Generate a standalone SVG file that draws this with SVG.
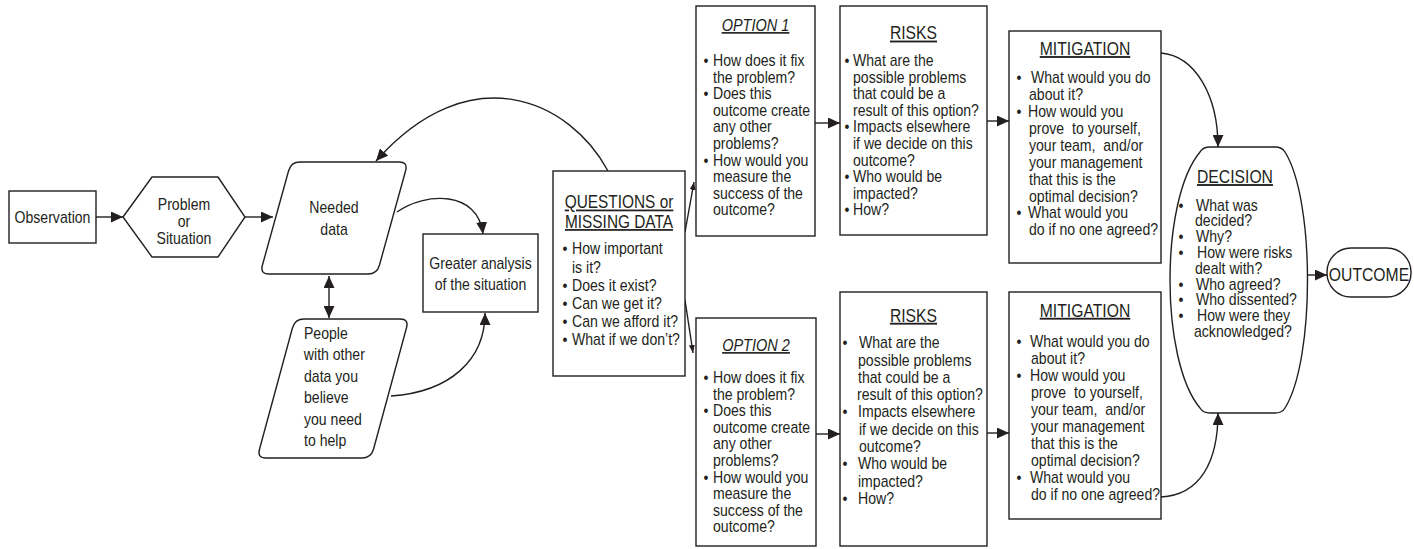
<svg xmlns="http://www.w3.org/2000/svg" width="1414" height="549" viewBox="0 0 1414 549">
  <style>
    .shape { fill: #fff; stroke: #231f20; stroke-width: 1.4; }
    .link { fill: none; stroke: #231f20; stroke-width: 1.4; }
    /* condensed look: regular sans squeezed horizontally around each text's anchor */
    .t { font-family: "Liberation Sans", Arial, sans-serif; font-size: 16px; fill: #231f20;
         transform-box: fill-box; transform-origin: 0 0; transform: scaleX(0.88); }
    .c { text-anchor: middle; transform-origin: 50% 0; }
    .h { font-size: 18.5px; text-decoration: underline; text-anchor: middle; transform-origin: 50% 0; transform: scaleX(0.85); }
    .hq { font-size: 17.5px; transform: scaleX(0.88); }
    .hi { font-size: 16.5px; font-style: italic; text-decoration: underline; text-anchor: middle; transform-origin: 50% 0; }
    .big { font-size: 18.5px; transform: scaleX(0.85); }
    .pre { white-space: pre; }
  </style>
  <defs>
    <marker id="arr" markerUnits="userSpaceOnUse" markerWidth="12" markerHeight="11" refX="12" refY="5.5" orient="auto">
      <path d="M0,0 L12,5.5 L0,11 Z" fill="#231f20"/>
    </marker>
    <marker id="arrStart" markerUnits="userSpaceOnUse" markerWidth="12" markerHeight="11" refX="12" refY="5.5" orient="auto-start-reverse">
      <path d="M0,0 L12,5.5 L0,11 Z" fill="#231f20"/>
    </marker>
    <marker id="arrSmall" markerUnits="userSpaceOnUse" markerWidth="8" markerHeight="6" refX="8" refY="3" orient="auto">
      <path d="M0,0 L8,3 L0,6 Z" fill="#231f20"/>
    </marker>
  </defs>

  <!-- connectors -->
  <g id="connectors">
    <path class="link" d="M96,217 L123,217" marker-end="url(#arr)"/>
    <path class="link" d="M245,217 L273,217" marker-end="url(#arr)"/>
    <path class="link" d="M329,276 L329,318" marker-start="url(#arrStart)" marker-end="url(#arr)"/>
    <path class="link" d="M397,212 C425,192 478,190 483,234" marker-end="url(#arr)"/>
    <path class="link" d="M391,396 C450,392 485,360 485,313" marker-end="url(#arr)"/>
    <path class="link" d="M608,171 C570,100 470,55 376,161" marker-end="url(#arr)"/>
    <path class="link" d="M685,232 L694,182" marker-end="url(#arrSmall)"/>
    <path class="link" d="M685,300 L693,353" marker-end="url(#arrSmall)"/>
    <path class="link" d="M815,123 L840,123" marker-end="url(#arr)"/>
    <path class="link" d="M816,434 L840,434" marker-end="url(#arr)"/>
    <path class="link" d="M987,121 L1009,121" marker-end="url(#arr)"/>
    <path class="link" d="M987,433 L1009,433" marker-end="url(#arr)"/>
    <path class="link" d="M1161,53 C1195,56 1218,95 1218,147" marker-end="url(#arr)"/>
    <path class="link" d="M1161,497 C1200,495 1218,462 1218,413" marker-end="url(#arr)"/>
    <path class="link" d="M1303,275 L1327,275" marker-end="url(#arr)"/>
  </g>

  <g id="observation">
    <rect class="shape" x="9" y="191" width="87" height="52"/>
    <text class="t c" x="52.5" y="223">Observation</text>
  </g>

  <g id="problem">
    <path class="shape" d="M123,217 L152,177 L218,177 L245,217 L218,257 L152,257 Z"/>
    <text class="t c" x="184" y="210">Problem</text>
    <text class="t c" x="184" y="227">or</text>
    <text class="t c" x="184" y="244">Situation</text>
  </g>

  <g id="needed-data">
    <path class="shape" d="M300,162 L399,162 Q408,162 405.6,170.7 L379.4,265.3 Q377,274 368,274 L269,274 Q260,274 262.4,265.3 L288.6,170.7 Q291,162 300,162 Z"/>
    <text class="t c" x="334" y="213">Needed</text>
    <text class="t c" x="334" y="235">data</text>
  </g>

  <g id="people">
    <path class="shape" d="M304,319 L400,319 Q409,319 406.5,327.7 L373.5,449.3 Q371,458 362,458 L266,458 Q257,458 259.5,449.3 L292.5,327.7 Q295,319 304,319 Z"/>
    <text class="t" x="304" y="339">People</text>
    <text class="t" x="304" y="360.5">with other</text>
    <text class="t" x="304" y="382">data you</text>
    <text class="t" x="304" y="403.5">believe</text>
    <text class="t" x="304" y="425">you need</text>
    <text class="t" x="304" y="446.5">to help</text>
  </g>

  <g id="greater-analysis">
    <rect class="shape" x="423" y="234" width="115" height="78"/>
    <text class="t c" x="480.5" y="269">Greater analysis</text>
    <text class="t c" x="480.5" y="290">of the situation</text>
  </g>

  <g id="questions">
    <rect class="shape" x="553" y="171" width="132" height="205"/>
    <text class="t h hq" x="619" y="208.5">QUESTIONS or</text>
    <text class="t h hq" x="619" y="228">MISSING DATA</text>
    <text class="t" x="562.5" y="254.5">•</text><text class="t" x="572" y="254.5">How important</text>
    <text class="t" x="572" y="272.6">is it?</text>
    <text class="t" x="562.5" y="290.7">•</text><text class="t" x="572" y="290.7">Does it exist?</text>
    <text class="t" x="562.5" y="308.8">•</text><text class="t" x="572" y="308.8">Can we get it?</text>
    <text class="t" x="562.5" y="326.9">•</text><text class="t" x="572" y="326.9">Can we afford it?</text>
    <text class="t" x="562.5" y="345">•</text><text class="t" x="572" y="345">What if we don’t?</text>
  </g>

  <g id="option-1">
    <rect class="shape" x="696" y="6" width="119" height="230"/>
    <text class="t hi" x="755.5" y="31">OPTION 1</text>
    <text class="t" x="703.5" y="66">•</text><text class="t" x="713" y="66">How does it fix</text>
    <text class="t" x="713" y="82.6">the problem?</text>
    <text class="t" x="703.5" y="99.2">•</text><text class="t" x="713" y="99.2">Does this</text>
    <text class="t" x="713" y="115.8">outcome create</text>
    <text class="t" x="713" y="132.4">any other</text>
    <text class="t" x="713" y="149">problems?</text>
    <text class="t" x="703.5" y="165.6">•</text><text class="t" x="713" y="165.6">How would you</text>
    <text class="t" x="713" y="182.2">measure the</text>
    <text class="t" x="713" y="198.8">success of the</text>
    <text class="t" x="713" y="215.4">outcome?</text>
  </g>

  <g id="option-2">
    <rect class="shape" x="696" y="318" width="120" height="228"/>
    <text class="t hi" x="756" y="351">OPTION 2</text>
    <text class="t" x="703.5" y="383">•</text><text class="t" x="713" y="383">How does it fix</text>
    <text class="t" x="713" y="399.6">the problem?</text>
    <text class="t" x="703.5" y="416.2">•</text><text class="t" x="713" y="416.2">Does this</text>
    <text class="t" x="713" y="432.8">outcome create</text>
    <text class="t" x="713" y="449.4">any other</text>
    <text class="t" x="713" y="466">problems?</text>
    <text class="t" x="703.5" y="482.6">•</text><text class="t" x="713" y="482.6">How would you</text>
    <text class="t" x="713" y="499.2">measure the</text>
    <text class="t" x="713" y="515.8">success of the</text>
    <text class="t" x="713" y="532.4">outcome?</text>
  </g>

  <g id="risks-1">
    <rect class="shape" x="840" y="6" width="147" height="229"/>
    <text class="t h" x="913.5" y="39.5">RISKS</text>
    <text class="t" x="844.5" y="66">•</text><text class="t" x="853" y="66">What are the</text>
    <text class="t" x="853" y="82.6">possible problems</text>
    <text class="t" x="853" y="99.2">that could be a</text>
    <text class="t" x="853" y="115.8">result of this option?</text>
    <text class="t" x="844.5" y="132.4">•</text><text class="t" x="853" y="132.4">Impacts elsewhere</text>
    <text class="t" x="853" y="149">if we decide on this</text>
    <text class="t" x="853" y="165.6">outcome?</text>
    <text class="t" x="844.5" y="182.2">•</text><text class="t" x="853" y="182.2">Who would be</text>
    <text class="t" x="853" y="198.8">impacted?</text>
    <text class="t" x="844.5" y="215.4">•</text><text class="t" x="853" y="215.4">How?</text>
  </g>

  <g id="risks-2">
    <rect class="shape" x="840" y="292" width="147" height="254"/>
    <text class="t h" x="913.5" y="321.7">RISKS</text>
    <text class="t" x="842.5" y="348.3">•</text><text class="t" x="859" y="348.3">What are the</text>
    <text class="t" x="858" y="365.6">possible problems</text>
    <text class="t" x="858" y="382.9">that could be a</text>
    <text class="t" x="857" y="400.2">result of this option?</text>
    <text class="t" x="842.5" y="417.5">•</text><text class="t" x="858" y="417.5">Impacts elsewhere</text>
    <text class="t" x="859" y="434.8">if we decide on this</text>
    <text class="t" x="859" y="452.1">outcome?</text>
    <text class="t" x="842.5" y="469.4">•</text><text class="t" x="858" y="469.4">Who would be</text>
    <text class="t" x="858" y="486.7">impacted?</text>
    <text class="t" x="842.5" y="504">•</text><text class="t" x="858" y="504">How?</text>
  </g>

  <g id="mitigation-1">
    <rect class="shape" x="1009" y="31" width="152" height="232"/>
    <text class="t h" x="1085" y="55">MITIGATION</text>
    <text class="t" x="1016.5" y="83.3">•</text><text class="t" x="1031" y="83.3">What would you do</text>
    <text class="t" x="1029" y="100.2">about it?</text>
    <text class="t" x="1016.5" y="117.1">•</text><text class="t" x="1028" y="117.1">How would you</text>
    <text class="t pre" x="1029" y="134">prove  to yourself,</text>
    <text class="t pre" x="1029" y="150.9">your team,  and/or</text>
    <text class="t" x="1029" y="167.8">your management</text>
    <text class="t" x="1029" y="184.7">that this is the</text>
    <text class="t" x="1029" y="201.6">optimal decision?</text>
    <text class="t" x="1016.5" y="218.5">•</text><text class="t" x="1028" y="218.5">What would you</text>
    <text class="t" x="1029" y="235.4">do if no one agreed?</text>
  </g>

  <g id="mitigation-2">
    <rect class="shape" x="1009" y="292" width="152" height="227"/>
    <text class="t h" x="1085" y="316.7">MITIGATION</text>
    <text class="t" x="1016.5" y="347.3">•</text><text class="t" x="1030" y="347.3">What would you do</text>
    <text class="t" x="1031" y="364.3">about it?</text>
    <text class="t" x="1016.5" y="381.3">•</text><text class="t" x="1030" y="381.3">How would you</text>
    <text class="t pre" x="1031" y="398.3">prove  to yourself,</text>
    <text class="t pre" x="1031" y="415.3">your team,  and/or</text>
    <text class="t" x="1031" y="432.3">your management</text>
    <text class="t" x="1031" y="449.3">that this is the</text>
    <text class="t" x="1031" y="466.3">optimal decision?</text>
    <text class="t" x="1016.5" y="483.3">•</text><text class="t" x="1030" y="483.3">What would you</text>
    <text class="t" x="1031" y="500.3">do if no one agreed?</text>
  </g>

  <g id="decision">
    <path class="shape" d="M1210,147 L1275,147 Q1282,147 1285,152 C1315,200 1315,360 1285,408 Q1282,413 1275,413 L1210,413 Q1203,413 1200,408 C1160,360 1160,200 1200,152 Q1203,147 1210,147 Z"/>
    <text class="t h" x="1235" y="183">DECISION</text>
    <text class="t" x="1178.5" y="210.7">•</text><text class="t" x="1196" y="210.7">What was</text>
    <text class="t" x="1195" y="226.5">decided?</text>
    <text class="t" x="1178.5" y="242.3">•</text><text class="t" x="1196" y="242.3">Why?</text>
    <text class="t" x="1178.5" y="258.1">•</text><text class="t" x="1197" y="258.1">How were risks</text>
    <text class="t" x="1195" y="273.9">dealt with?</text>
    <text class="t" x="1178.5" y="289.7">•</text><text class="t" x="1196" y="289.7">Who agreed?</text>
    <text class="t" x="1178.5" y="305.5">•</text><text class="t" x="1196" y="305.5">Who dissented?</text>
    <text class="t" x="1178.5" y="321.3">•</text><text class="t" x="1197" y="321.3">How were they</text>
    <text class="t" x="1194" y="337.1">acknowledged?</text>
  </g>

  <g id="outcome">
    <rect class="shape" x="1327" y="248" width="84" height="49" rx="24" ry="24"/>
    <text class="t c big" x="1369" y="281">OUTCOME</text>
  </g>
</svg>
